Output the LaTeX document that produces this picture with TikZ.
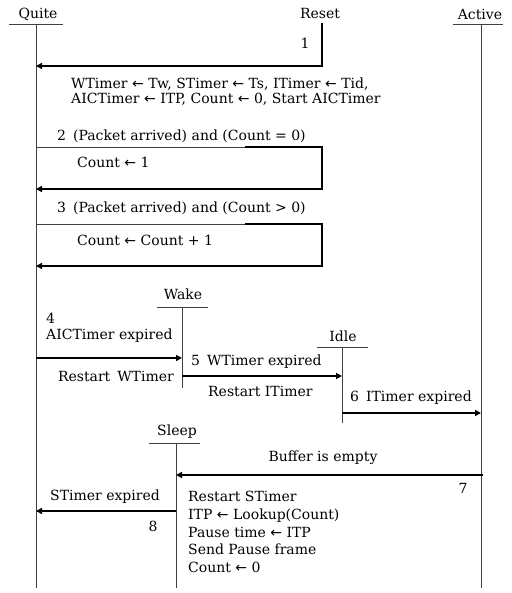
\documentclass[tikz,border=0pt]{standalone}
\usepackage{fontspec}
\setmainfont{DejaVu Serif}
\newfontfamily\arrfont{DejaVu Sans}
\usetikzlibrary{arrows.meta}
\newcommand{\la}{{\arrfont ←}}
\tikzset{
  lifeln/.style={line width=0.7pt, draw=black!75},
  msg/.style={line width=1.7pt, -{Triangle[length=6pt,width=6pt]}},
  thinln/.style={line width=0.7pt, draw=black!75},
  txt/.style={inner sep=0pt, font=\fontsize{14}{15}\selectfont},
  head/.style={txt, anchor=center},
}
\begin{document}
\begin{tikzpicture}[x=1pt,y=-1pt]
\useasboundingbox (0,0) rectangle (511,593);
% heads
\node[head] (quite) at (38,14) {Quite};
\node[head] (reset) at (320,14) {Reset};
\node[head] (active) at (480,14) {Active};
\node[head] (wake) at (183,294) {Wake};
\node[head] (idle) at (343,336) {Idle};
\node[head] (sleep) at (177,432) {Sleep};
% underlines
\draw[thinln] (9,24) -- (63,24);
\draw[thinln] (453,24) -- (503,24);
\draw[thinln] (157,307) -- (208,307);
\draw[thinln] (317,347) -- (368,347);
\draw[thinln] (149,443) -- (200,443);
% lifeline coordinates
\coordinate (qtop) at (36,24);
\coordinate (qbot) at (36,588);
\coordinate (atop) at (481,24);
\coordinate (abot) at (481,588);
\coordinate (wtop) at (182,307);
\coordinate (wbot) at (182,388);
\coordinate (itop) at (342,347);
\coordinate (ibot) at (342,423);
\coordinate (stop) at (176,443);
\coordinate (sbot) at (176,588);
\draw[lifeln] (qtop) -- (qbot);
\draw[lifeln] (atop) -- (abot);
\draw[lifeln] (wtop) -- (wbot);
\draw[lifeln] (itop) -- (ibot);
\draw[lifeln] (stop) -- (sbot);
% message 1
\coordinate (r1) at (322,23);
\coordinate (r1b) at (322,66);
\coordinate (q1) at (36,66);
\draw[msg] (r1) -- (r1b) -- (q1);
\node[txt] (n1) at (305,43) {1};
\node[txt, anchor=west, align=left] (t1) at (71,91.5) {WTimer \la{} Tw, STimer \la{} Ts, ITimer \la{} Tid,\\AICTimer \la{} ITP, Count \la{} 0, Start AICTimer};
% message 2
\node[txt, anchor=west] (t2) at (57,136) {2\enspace(Packet arrived) and (Count = 0)};
\coordinate (q2a) at (36,147);
\coordinate (m2) at (245,147);
\coordinate (r2a) at (322,147);
\coordinate (r2b) at (322,189);
\coordinate (q2b) at (36,189);
\draw[thinln] (q2a) -- (m2);
\draw[msg] (m2) -- (r2a) -- (r2b) -- (q2b);
\node[txt, anchor=west] (c2) at (77,162) {Count \la{} 1};
% message 3
\node[txt, anchor=west] (t3) at (57,208) {3\enspace(Packet arrived) and (Count > 0)};
\coordinate (q3a) at (36,224);
\coordinate (m3) at (245,224);
\coordinate (r3a) at (322,224);
\coordinate (r3b) at (322,266);
\coordinate (q3b) at (36,266);
\draw[thinln] (q3a) -- (m3);
\draw[msg] (m3) -- (r3a) -- (r3b) -- (q3b);
\node[txt, anchor=west] (c3) at (77,240) {Count \la{} Count + 1};
% message 4
\node[txt, anchor=west] (n4) at (46,318) {4};
\node[txt, anchor=west] (t4) at (46,336) {AICTimer expired};
\coordinate (q4) at (36,358);
\coordinate (w4) at (182,358);
\draw[msg] (q4) -- (w4);
\node[txt, anchor=east] (r4) at (174,376) {Restart\enspace WTimer};
% message 5
\coordinate (w5) at (182,376);
\coordinate (i5) at (342,376);
\draw[msg] (w5) -- (i5);
\node[txt, anchor=west] (t5) at (191,362) {5\enspace WTimer expired};
\node[txt, anchor=west] (r5) at (208,391) {Restart ITimer};
% message 6
\node[txt, anchor=west] (t6) at (350,398) {6\enspace ITimer expired};
\coordinate (i6) at (342,413);
\coordinate (a6) at (481,413);
\draw[msg] (i6) -- (a6);
% message 7
\node[txt] (t7) at (323,458) {Buffer is empty};
\coordinate (a7) at (483,475);
\coordinate (s7) at (176,475);
\draw[msg] (a7) -- (s7);
\node[txt] (n7) at (463,488) {7};
\node[txt, anchor=north west, align=left, font=\fontsize{14}{17.8}\selectfont] (b7) at (188,491) {Restart STimer\\ITP \la{} Lookup(Count)\\Pause time \la{} ITP\\Send Pause frame\\Count \la{} 0};
% message 8
\node[txt] (t8) at (105,497) {STimer expired};
\coordinate (s8) at (176,511);
\coordinate (q8) at (36,511);
\draw[msg] (s8) -- (q8);
\node[txt] (n8) at (153,526) {8};
\end{tikzpicture}
\end{document}
